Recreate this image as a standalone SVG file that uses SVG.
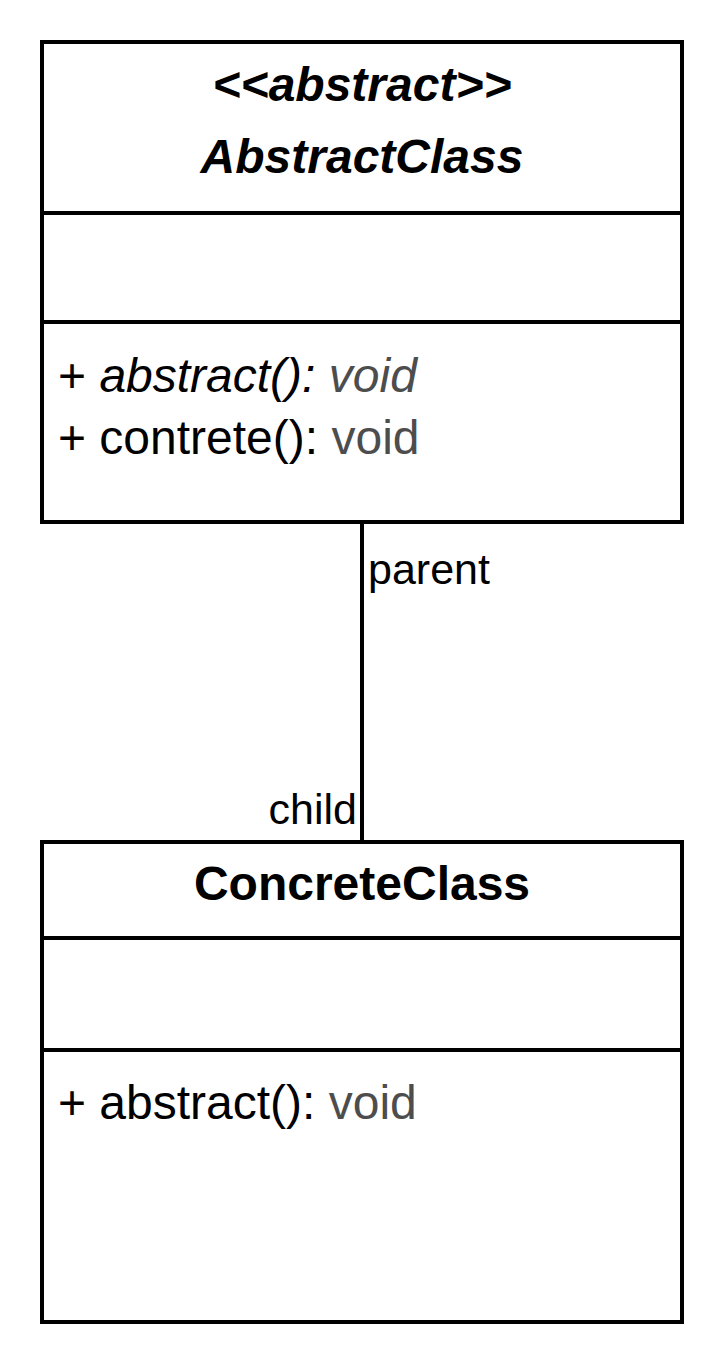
<svg xmlns="http://www.w3.org/2000/svg" width="724" height="1364" viewBox="0 0 724 1364">
<style>
.box{fill:#fff;stroke:#000;stroke-width:4}
.div{stroke:#000;stroke-width:4}
text{font-family:"Liberation Sans",Arial,sans-serif;fill:#000}
.title{font-size:48px;font-weight:bold;text-anchor:middle}
.it{font-style:italic}
.mem{font-size:48px}
.ty{fill:#4D4D4D}
.lbl{font-size:43px}
</style>
<rect width="724" height="1364" fill="#fff"/>
<g id="connectors">
<line x1="362" y1="522" x2="362" y2="842" stroke="#000" stroke-width="4"/>
<text class="lbl" x="368" y="584">parent</text>
<text class="lbl" x="357" y="824" text-anchor="end">child</text>
</g>
<g id="AbstractClass">
<rect class="box" x="42" y="42" width="640" height="480"/>
<line class="div" x1="42" y1="213" x2="682" y2="213"/>
<line class="div" x1="42" y1="322" x2="682" y2="322"/>
<text class="title it" x="362" y="101">&lt;&lt;abstract&gt;&gt;</text>
<text class="title it" x="362" y="173">AbstractClass</text>
<text class="mem" x="58" y="392">+ <tspan class="it">abstract(): </tspan><tspan class="it ty">void</tspan></text>
<text class="mem" x="58" y="454">+ contrete(): <tspan class="ty">void</tspan></text>
</g>
<g id="ConcreteClass">
<rect class="box" x="42" y="842" width="640" height="480"/>
<line class="div" x1="42" y1="938" x2="682" y2="938"/>
<line class="div" x1="42" y1="1050" x2="682" y2="1050"/>
<text class="title" x="362" y="900">ConcreteClass</text>
<text class="mem" x="58" y="1119">+ abstract(): <tspan class="ty">void</tspan></text>
</g>
</svg>
